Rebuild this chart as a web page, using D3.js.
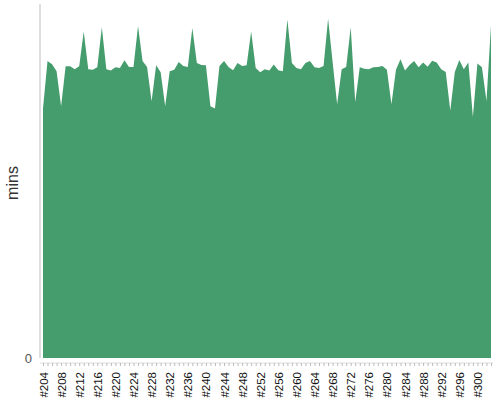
<!DOCTYPE html>
<html lang="en">
<head>
<meta charset="UTF-8">
<title>Build times</title>
<script src="https://cdnjs.cloudflare.com/ajax/libs/d3/7.8.5/d3.min.js"></script>
<style>
  body { margin: 0; background: #fff; }
  svg { display: block; font-family: "Liberation Sans", Arial, sans-serif; }
</style>
</head>
<body>
<script>
// builds #204 .. #303
var firstBuild = 204;
var buildCount = 100;
var builds = d3.range(firstBuild, firstBuild + buildCount).map(function (n) { return "#" + n; });

// duration in minutes per build
var minutes = [
  70.5, 83.9, 83.0, 81.0, 71.1, 82.4, 82.4, 81.6, 82.4, 92.2,
  81.6, 81.4, 82.1, 93.4, 81.6, 81.2, 82.1, 81.9, 84.1, 82.2,
  82.2, 93.8, 83.9, 82.2, 72.5, 82.7, 80.7, 71.1, 81.0, 81.4,
  83.6, 82.5, 82.2, 93.2, 83.3, 82.8, 82.7, 71.1, 70.5, 82.5,
  83.9, 82.2, 81.3, 83.3, 82.5, 82.7, 92.2, 81.9, 80.7, 81.6,
  81.2, 82.9, 81.3, 81.0, 95.6, 83.3, 81.9, 81.6, 83.3, 83.9,
  82.1, 81.9, 82.5, 95.8, 83.6, 71.7, 81.6, 82.2, 93.4, 72.3,
  82.1, 81.7, 81.6, 82.1, 82.2, 82.5, 81.4, 71.7, 81.4, 84.4,
  81.2, 82.8, 83.9, 82.1, 83.5, 82.3, 84.0, 83.5, 81.6, 80.8,
  69.9, 80.8, 84.2, 81.6, 83.5, 68.1, 83.2, 82.1, 72.6, 94.0
];

var yTicks = [0];
var yLabel = "mins";

var width = 500, height = 400;
var margin = { top: 4, right: 9, bottom: 42, left: 43 };

var svg = d3.select("body").append("svg")
  .attr("width", width)
  .attr("height", height);

var x = d3.scalePoint()
  .domain(builds)
  .range([margin.left, width - margin.right]);

var y = d3.scaleLinear()
  .domain([0, 100])
  .range([height - margin.bottom, margin.top]);

var data = builds.map(function (b, i) { return { build: b, mins: minutes[i] }; });

var area = d3.area()
  .x(function (d) { return x(d.build); })
  .y0(y(0))
  .y1(function (d) { return y(d.mins); });

svg.append("path")
  .datum(data)
  .attr("fill", "#459c6c")
  .attr("d", area);

// y axis
var yAxis = svg.append("g")
  .attr("transform", "translate(" + (margin.left - 3) + ",0)")
  .call(d3.axisLeft(y).tickValues(yTicks).tickSize(0).tickPadding(8));
yAxis.select(".domain").attr("stroke", "#c8c8c8").attr("stroke-width", 1.2)
  .attr("d", "M0," + y(0) + "V" + margin.top);
yAxis.selectAll("text").attr("fill", "#555").attr("font-size", 13)
  .attr("font-family", "'Liberation Sans', Arial, sans-serif");

svg.append("text")
  .attr("transform", "translate(18," + (y(50) + 2) + ") rotate(-90)")
  .attr("text-anchor", "middle")
  .attr("fill", "#333")
  .attr("font-size", 16)
  .text(yLabel);

// x axis
var xAxis = svg.append("g")
  .attr("transform", "translate(0," + (height - margin.bottom + 5) + ")")
  .call(d3.axisBottom(x).tickSize(3).tickPadding(4)
    .tickFormat(function (d, i) { return i % 4 === 0 ? d : ""; }));
xAxis.select(".domain").attr("stroke", "#ddd").attr("d",
  "M" + (margin.left - 3) + ",0H" + (width - margin.right + 2));
xAxis.selectAll(".tick line").attr("stroke", "#bbb");
xAxis.selectAll("text")
  .attr("font-size", 11.5)
  .attr("font-family", "'Liberation Sans', Arial, sans-serif")
  .attr("fill", "#111")
  .attr("text-anchor", "end")
  .attr("dy", "0.35em")
  .attr("transform", "translate(0,4) rotate(-90)")
  .attr("x", -5)
  .attr("y", 0);
</script>
</body>
</html>
